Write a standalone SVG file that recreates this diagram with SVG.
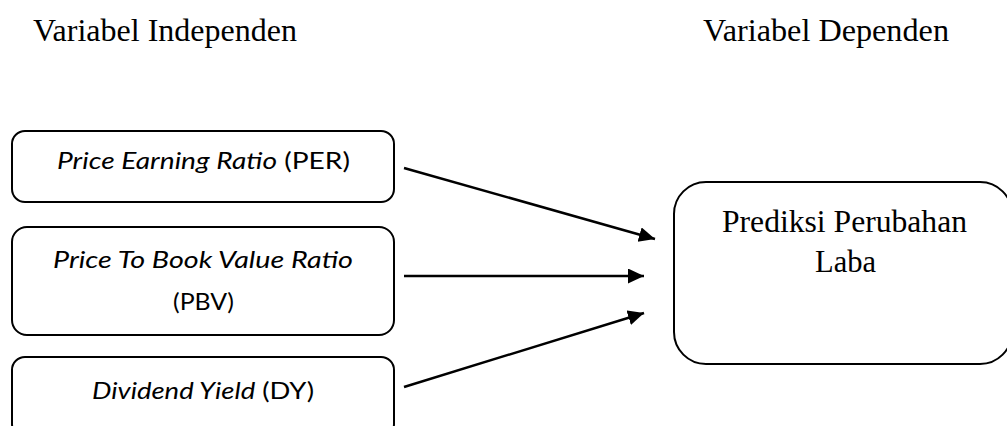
<svg xmlns="http://www.w3.org/2000/svg" width="1007" height="426" viewBox="0 0 1007 426">
  <defs>
    <marker id="arrowhead" markerUnits="userSpaceOnUse" markerWidth="17" markerHeight="16" refX="16" refY="7.5" orient="auto">
      <path d="M0,0 L16,7.5 L0,15 z" fill="#000"/>
    </marker>
    <style>
      .box { fill: #fff; stroke: #000; stroke-width: 2; }
      .serif { font-family: "Liberation Serif", "Times New Roman", serif; font-size: 32px; fill: #000; }
      .sans { font-family: Lato, "Open Sans", sans-serif; font-size: 24px; fill: #000; }
      .it { font-style: italic; }
      .link { fill: none; stroke: #000; stroke-width: 2.5; marker-end: url(#arrowhead); }
    </style>
  </defs>
  <rect width="1007" height="426" fill="#fff"/>

  <!-- column headings -->
  <text class="serif" x="33" y="41" textLength="264" lengthAdjust="spacingAndGlyphs">Variabel Independen</text>
  <text class="serif" x="703" y="41" textLength="246" lengthAdjust="spacingAndGlyphs">Variabel Dependen</text>

  <!-- independent variables -->
  <g id="per">
    <rect class="box" x="12" y="131" width="382" height="71" rx="13" ry="13"/>
    <text class="sans" x="57" y="169" textLength="293" lengthAdjust="spacingAndGlyphs"><tspan class="it">Price Earning Ratio</tspan> (PER)</text>
  </g>
  <g id="pbv">
    <rect class="box" x="12" y="227" width="382" height="108" rx="15" ry="15"/>
    <text class="sans it" x="53" y="268" textLength="300" lengthAdjust="spacingAndGlyphs">Price To Book Value Ratio</text>
    <text class="sans" x="173" y="310" textLength="61" lengthAdjust="spacingAndGlyphs">(PBV)</text>
  </g>
  <g id="dy">
    <rect class="box" x="12" y="357" width="382" height="80" rx="13" ry="13"/>
    <text class="sans" x="92" y="399" textLength="222" lengthAdjust="spacingAndGlyphs"><tspan class="it">Dividend Yield</tspan> (DY)</text>
  </g>

  <!-- dependent variable -->
  <g id="laba">
    <rect class="box" x="674" y="182" width="338" height="182" rx="32" ry="32"/>
    <text class="serif" x="722" y="232" textLength="245" lengthAdjust="spacingAndGlyphs">Prediksi Perubahan</text>
    <text class="serif" x="815" y="272" textLength="61" lengthAdjust="spacingAndGlyphs">Laba</text>
  </g>

  <!-- connectors -->
  <g id="connectors">
    <line class="link" x1="404" y1="168" x2="655" y2="239"/>
    <line class="link" x1="404" y1="276" x2="644" y2="276"/>
    <line class="link" x1="404" y1="387" x2="644" y2="313"/>
  </g>
</svg>
